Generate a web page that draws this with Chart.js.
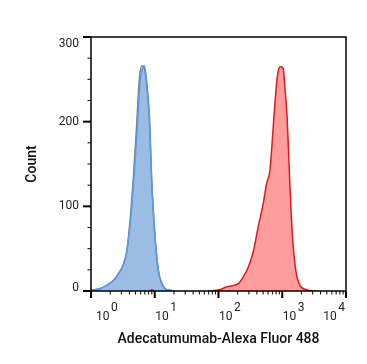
<!DOCTYPE html>
<html lang="en">
<head>
    <meta charset="UTF-8">
    <title>Adecatumumab-Alexa Fluor 488 histogram</title>
    <script src="https://cdn.jsdelivr.net/npm/chart.js"></script>
    <style>
        body {
            margin: 0;
            background: #fff;
        }
        canvas {
            display: block;
        }
    </style>
</head>
<body>
<canvas id="histChart" width="367" height="364"></canvas>

<script>
    // Values: fluorescence intensity (x) and event count (y)
    const grayX = [1.0, 1.4, 1.78, 2.26, 2.7, 3.24, 3.66, 4.08, 4.58, 5.15, 5.75, 6.3, 6.8, 7.45, 8.2, 9.0, 10.1, 11.4, 12.9, 14.5, 17.4, 20];
    const grayY = [1, 3, 7, 12.6, 20.5, 32, 48, 82, 130, 190, 252, 266, 264, 245, 205, 127, 64, 24, 9, 3, 1, 0];

    const blueX = [1.0, 1.4, 1.78, 2.26, 2.7, 3.24, 3.66, 4.12, 4.64, 5.25, 5.91, 6.42, 6.9, 7.52, 8.26, 9.0, 10.1, 11.4, 12.9, 14.5, 17.4, 20];
    const blueY = [1, 3, 7, 12.6, 20.5, 32, 48, 80, 127, 186, 249, 263, 266, 245, 205, 127, 64, 24, 9, 3, 1, 0];

    const redX = [69, 105, 134, 171, 204, 244, 293, 350, 420, 502, 568, 640, 680, 739, 815, 885, 951, 1033, 1110, 1193, 1315, 1449, 1633, 1885, 2399, 3440];
    const redY = [0, 1.5, 5, 6.4, 8.7, 16.5, 28, 46, 76, 103, 127, 142, 166, 205, 245, 263, 265, 263, 237, 205, 127, 64, 24, 7, 1.6, 0];

    // a few stray events of the red sample near 10^1
    const redBlipX = [8.4, 9.0, 9.6];
    const redBlipY = [0, 1.5, 0];

    // axes
    const xMajorTicks = [1, 10, 100, 1000, 10000];
    const xExponents = ['0', '1', '2', '3', '4'];
    const yMajorTicks = [0, 100, 200, 300];
    const yMinorTicks = [25, 50, 75, 125, 150, 175, 225, 250, 275];
    const xTitle = 'Adecatumumab-Alexa Fluor 488';
    const yTitle = 'Count';

    const toPoints = (xs, ys) => xs.map((x, i) => ({x: x, y: ys[i]}));

    // minor log ticks 2..9 inside each decade
    const xMinorTicks = [];
    xMajorTicks.slice(0, -1).forEach(d => {
        for (let m = 2; m <= 9; m++) xMinorTicks.push(m * d);
    });

    // frame, tick marks and tick labels drawn from the chart's scales
    const flowAxes = {
        id: 'flowAxes',
        afterDraw(chart) {
            const {ctx, chartArea: a, scales: {x, y}} = chart;
            ctx.save();
            ctx.strokeStyle = '#000';

            const seg = (x1, y1, x2, y2, w) => {
                ctx.lineWidth = w;
                ctx.beginPath();
                ctx.moveTo(x1, y1);
                ctx.lineTo(x2, y2);
                ctx.stroke();
            };

            ctx.lineWidth = 1.5;
            ctx.strokeRect(a.left, a.top, a.right - a.left, a.bottom - a.top);

            yMajorTicks.forEach(v => {
                const py = y.getPixelForValue(v);
                seg(a.left - 8, py, a.left, py, 2);
            });
            yMinorTicks.forEach(v => {
                const py = y.getPixelForValue(v);
                seg(a.left - 3.5, py, a.left, py, 1);
            });
            xMajorTicks.forEach(v => {
                const px = x.getPixelForValue(v);
                seg(px, a.bottom, px, a.bottom + 7, 2);
            });
            xMinorTicks.forEach(v => {
                const px = x.getPixelForValue(v);
                seg(px, a.bottom, px, a.bottom + 3.5, 1);
            });

            ctx.fillStyle = '#222';
            ctx.font = '12px Roboto';
            ctx.textAlign = 'right';
            ctx.textBaseline = 'middle';
            yMajorTicks.forEach(v => {
                let py = y.getPixelForValue(v);
                py = Math.max(py, a.top + 7);
                py = Math.min(py, a.bottom - 3.5);
                ctx.fillText(String(v), a.left - 12, py);
            });

            ctx.textAlign = 'left';
            ctx.textBaseline = 'alphabetic';
            ctx.font = '12px Roboto';
            xMajorTicks.forEach((v, i) => {
                const px = x.getPixelForValue(v);
                const wBase = ctx.measureText('10').width;
                const wExp = ctx.measureText(xExponents[i]).width;
                const w = wBase + 1.5 + wExp;
                let left = px + 0.5;
                left = Math.max(left, a.left + 5);
                left = Math.min(left, a.right - 1 - w);
                ctx.fillText('10', left, a.bottom + 28.5);
                ctx.fillText(xExponents[i], left + wBase + 1.5, a.bottom + 19.5);
            });
            ctx.restore();
        }
    };

    const ctx = document.getElementById('histChart').getContext('2d');
    new Chart(ctx, {
        type: 'line',
        data: {
            datasets: [{
                label: 'Adecatumumab',
                data: toPoints(redX, redY),
                borderColor: '#dd1c1c',
                backgroundColor: 'rgba(255, 60, 60, 0.5)',
                borderWidth: 1.5,
                fill: 'origin',
                order: 1
            }, {
                label: 'Adecatumumab (stray)',
                data: toPoints(redBlipX, redBlipY),
                borderColor: '#dd1c1c',
                backgroundColor: 'rgba(255, 60, 60, 0.5)',
                borderWidth: 1.5,
                fill: 'origin',
                order: 1
            }, {
                label: 'Isotype',
                data: toPoints(blueX, blueY),
                borderColor: '#559be6',
                backgroundColor: 'rgba(74, 134, 204, 0.55)',
                borderWidth: 1.5,
                fill: 'origin',
                order: 2
            }, {
                label: 'Blank',
                data: toPoints(grayX, grayY),
                borderColor: '#7f7f7f',
                borderWidth: 1.5,
                fill: false,
                order: 3
            }]
        },
        options: {
            responsive: false,
            animation: false,
            elements: {
                point: {radius: 0},
                line: {cubicInterpolationMode: 'monotone'}
            },
            layout: {
                padding: {left: 0, top: 37, right: 21, bottom: 0}
            },
            plugins: {
                legend: {display: false},
                tooltip: {enabled: false}
            },
            scales: {
                x: {
                    type: 'logarithmic',
                    min: 1,
                    max: 10000,
                    grid: {display: false},
                    border: {display: false},
                    ticks: {display: false},
                    title: {
                        display: true,
                        text: xTitle,
                        color: '#111',
                        font: {family: 'Roboto', size: 14, weight: '500'},
                        padding: {top: 0, bottom: 16.6}
                    },
                    afterFit: s => { s.height = 73; }
                },
                y: {
                    min: 0,
                    max: 300,
                    grid: {display: false},
                    border: {display: false},
                    ticks: {display: false},
                    title: {
                        display: true,
                        text: yTitle,
                        color: '#111',
                        font: {family: 'Roboto', size: 14, weight: '500'},
                        padding: {top: 23.6, bottom: 0}
                    },
                    afterFit: s => { s.width = 91; }
                }
            }
        },
        plugins: [flowAxes]
    });
</script>
</body>
</html>
